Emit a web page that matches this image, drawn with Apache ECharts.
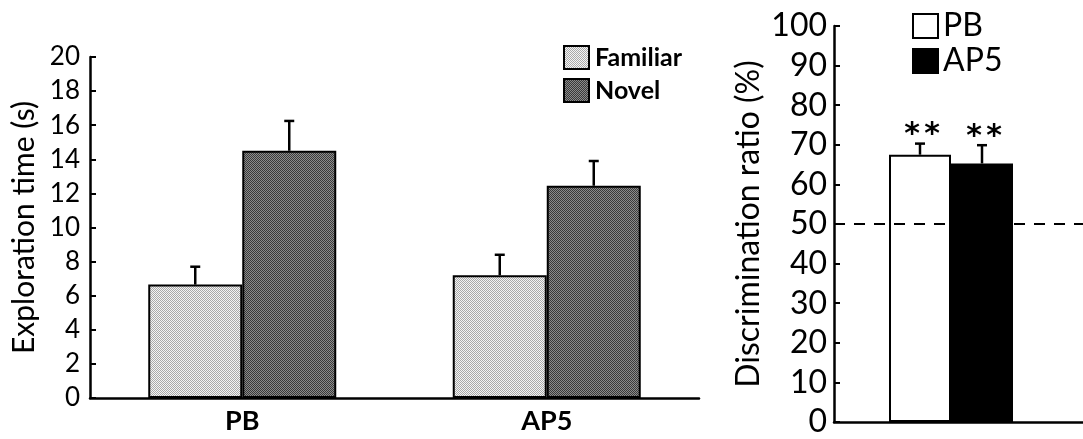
<!DOCTYPE html>
<html>
<head>
<meta charset="utf-8">
<script src="https://cdn.jsdelivr.net/npm/echarts@6/dist/echarts.min.js"></script>
<style>
  html, body { margin: 0; padding: 0; background: #fff; }
  #chart { width: 1083px; height: 439px; }
</style>
</head>
<body>
<div id="chart"></div>
<script>
// Exploration time per group (seconds), mean and SEM
const groups = ['PB', 'AP5'];
const familiarMean = [6.65, 7.2];
const familiarSem = [1.05, 1.2];
const novelMean = [14.5, 12.45];
const novelSem = [1.75, 1.45];

// Discrimination ratio (%), mean and SEM
const ratioGroups = ['PB', 'AP5'];
const ratioMean = [67.5, 65.3];
const ratioSem = [2.8, 4.6];
const ratioMarks = ['*', '*'];
const chanceLevel = 50;

const FONT = 'Lato, "Open Sans", sans-serif';
const STAR_FONT = '"DejaVu Sans", sans-serif';

// fine checkered fill used for the grey bars
function checker(base, dot) {
  const c = document.createElement('canvas');
  c.width = 2; c.height = 2;
  const g = c.getContext('2d');
  g.fillStyle = base; g.fillRect(0, 0, 2, 2);
  g.fillStyle = dot; g.fillRect(0, 0, 1, 1); g.fillRect(1, 1, 1, 1);
  return { image: c, repeat: 'repeat' };
}
const familiarFill = checker('#f4f4f4', '#a9a9a9');
const novelFill = checker('#8c8c8c', '#3a3a3a');

const LEFT_BAR = 94;
const RIGHT_BAR = 62;

// upper error bar (vertical stem + cap), optional pair of significance stars above it
function errorBar(offsetFor, marks) {
  return function (params, api) {
    const x = api.value(0), m = api.value(1), e = api.value(2);
    const base = api.coord([x, m]);
    const top = api.coord([x, m + e]);
    const cx = base[0] + offsetFor(params.dataIndex);
    const children = [
      { type: 'line', shape: { x1: cx, y1: base[1], x2: cx, y2: top[1] }, style: { stroke: '#000', lineWidth: 2.5 } },
      { type: 'line', shape: { x1: cx - 5, y1: top[1], x2: cx + 5, y2: top[1] }, style: { stroke: '#000', lineWidth: 2.5 } }
    ];
    if (marks) {
      const star = marks[params.dataIndex];
      [-10, 10].forEach(function (dx) {
        children.push({
          type: 'text',
          style: { x: cx + 2 + dx, y: top[1] - 8, text: star, fill: '#000',
                   font: 'bold 30px ' + STAR_FONT, align: 'center', verticalAlign: 'middle' }
        });
      });
    }
    return { type: 'group', children: children };
  };
}

const chart = echarts.init(document.getElementById('chart'));
const axisLine = { show: true, lineStyle: { color: '#000', width: 2.5 } };

chart.setOption({
  animation: false,
  backgroundColor: '#fff',
  textStyle: { fontFamily: FONT, color: '#000' },
  grid: [
    { left: 90, right: 384, top: 57, bottom: 41 },
    { left: 834, right: 15, top: 26, bottom: 17 },
    { left: 834, right: 0, top: 26, bottom: 17 }
  ],
  legend: [
    {
      data: ['Familiar', 'Novel'], orient: 'vertical', left: 563, top: 45, padding: 0,
      itemWidth: 25, itemHeight: 23, itemGap: 8, icon: 'rect',
      textStyle: { fontFamily: FONT, fontWeight: 'bold', fontSize: 25, color: '#000', padding: [0, 0, 0, 1] }
    },
    {
      data: ['PB', 'AP5'], orient: 'vertical', left: 912, top: 10, padding: 0,
      itemWidth: 25, itemHeight: 24, itemGap: 3, icon: 'rect',
      textStyle: { fontFamily: FONT, fontSize: 32, color: '#000', padding: [0, 0, 0, 0] }
    }
  ],
  xAxis: [
    {
      type: 'category', gridIndex: 0, data: groups, axisLine: axisLine,
      axisTick: { show: false },
      axisLabel: { fontFamily: FONT, fontWeight: 'bold', fontSize: 27, color: '#000', margin: 10 }
    },
    {
      type: 'category', gridIndex: 1, data: ['ratio'],
      axisLine: { show: false }, axisTick: { show: false }, axisLabel: { show: false }
    },
    {
      type: 'value', gridIndex: 2, min: 0, max: 1, axisLine: axisLine,
      axisTick: { show: false }, axisLabel: { show: false }, splitLine: { show: false }
    }
  ],
  yAxis: [
    {
      type: 'value', gridIndex: 0, min: 0, max: 20, interval: 2,
      axisLine: axisLine, splitLine: { show: false },
      axisTick: { show: true, inside: true, length: 6, lineStyle: { color: '#000', width: 2 } },
      axisLabel: { fontFamily: FONT, fontSize: 26, color: '#000', margin: 10 },
      name: 'Exploration time (s)', nameLocation: 'middle', nameGap: 51,
      nameTextStyle: { fontFamily: FONT, fontSize: 30, color: '#000' }
    },
    {
      type: 'value', gridIndex: 1, min: 0, max: 100, interval: 10,
      axisLine: axisLine, splitLine: { show: false },
      axisTick: { show: true, inside: true, length: 6, lineStyle: { color: '#000', width: 2 } },
      axisLabel: { fontFamily: FONT, fontSize: 32, color: '#000', margin: 7 },
      name: 'Discrimination ratio (%)', nameLocation: 'middle', nameGap: 69,
      nameTextStyle: { fontFamily: FONT, fontSize: 32, color: '#000' }
    },
    {
      type: 'value', gridIndex: 2, min: 0, max: 100, show: false
    }
  ],
  series: [
    {
      name: 'Familiar', type: 'bar', xAxisIndex: 0, yAxisIndex: 0, data: familiarMean,
      barWidth: LEFT_BAR, barGap: '0%', z: 2,
      itemStyle: { color: familiarFill, borderColor: '#000', borderWidth: 2 }
    },
    {
      name: 'Novel', type: 'bar', xAxisIndex: 0, yAxisIndex: 0, data: novelMean,
      barWidth: LEFT_BAR, barGap: '0%', z: 2,
      itemStyle: { color: novelFill, borderColor: '#000', borderWidth: 2 }
    },
    {
      type: 'custom', xAxisIndex: 0, yAxisIndex: 0, z: 3,
      data: familiarMean.map((m, i) => [i, m, familiarSem[i]]),
      renderItem: errorBar(() => -LEFT_BAR / 2)
    },
    {
      type: 'custom', xAxisIndex: 0, yAxisIndex: 0, z: 3,
      data: novelMean.map((m, i) => [i, m, novelSem[i]]),
      renderItem: errorBar(() => LEFT_BAR / 2)
    },
    {
      name: 'PB', type: 'bar', xAxisIndex: 1, yAxisIndex: 1, data: [ratioMean[0]],
      barWidth: RIGHT_BAR, barGap: '0%', z: 2,
      itemStyle: { color: '#fff', borderColor: '#000', borderWidth: 2 }
    },
    {
      name: 'AP5', type: 'bar', xAxisIndex: 1, yAxisIndex: 1, data: [ratioMean[1]],
      barWidth: RIGHT_BAR, barGap: '0%', z: 2,
      itemStyle: { color: '#000', borderColor: '#000', borderWidth: 2 }
    },
    {
      type: 'custom', xAxisIndex: 1, yAxisIndex: 1, z: 3,
      data: ratioMean.map((m, i) => [0, m, ratioSem[i]]),
      renderItem: errorBar((i) => (i - 0.5) * RIGHT_BAR, ratioMarks)
    },
    {
      type: 'line', xAxisIndex: 2, yAxisIndex: 2, data: [], z: 1,
      markLine: {
        silent: true, symbol: 'none', label: { show: false },
        lineStyle: { color: '#000', width: 2, type: [11, 9] },
        data: [{ yAxis: chanceLevel }]
      }
    }
  ]
});
</script>
</body>
</html>
